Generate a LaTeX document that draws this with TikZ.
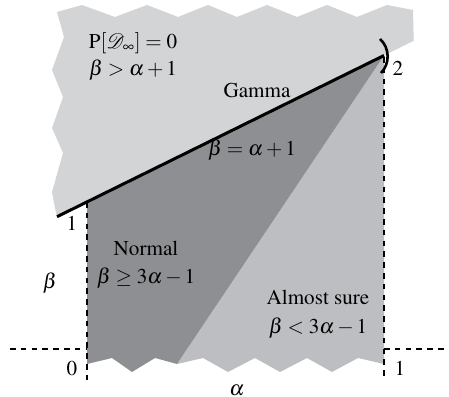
\documentclass[tikz,border=0pt]{standalone}
\usepackage[T1]{fontenc}
\usepackage{mathptmx}
\definecolor{lightreg}{HTML}{D3D4D6}
\definecolor{asreg}{HTML}{BDBEC1}
\definecolor{normreg}{HTML}{8E8F92}
\begin{document}
\begin{tikzpicture}[x=0.5bp,y=-0.5bp,
  lbl/.style={font=\fontsize{10.6}{13}\selectfont, inner sep=0pt, anchor=center},
  axisdash/.style={line width=0.7bp, dash pattern=on 2.8bp off 2.6bp},
  boundary/.style={line width=1.5bp, black}]
\useasboundingbox (0,0) rectangle (449,397);
% key coordinates
\coordinate (O) at (87,349);
\coordinate (A1) at (87,202);
\coordinate (T) at (384,55.5);
\coordinate (L) at (57,216.7);
\coordinate (R) at (413.7,40.8);
\coordinate (D0) at (177,364);
% light region above beta = alpha + 1
\fill[lightreg] (L) -- (55,208) -- (52,192) -- (63,153) -- (52,128) -- (63,97)
  -- (52,70) -- (64,37) -- (57,12) -- (82,5) -- (115,17) -- (147,5) -- (178,17)
  -- (208,5) -- (237,17) -- (267,5) -- (297,17) -- (327,5) -- (357,17)
  -- (387,5) -- (413,10) -- (R) -- cycle;
% almost sure region
\fill[asreg] (T) -- (384,364) -- (358,358) -- (332,372) -- (307,358) -- (280,372)
  -- (255,358) -- (228,372) -- (203,358) -- (D0) -- cycle;
% normal region
\fill[normreg] (A1) -- (T) -- (D0) -- (155,358) -- (132,372) -- (112,358)
  -- (87,364) -- cycle;
% dashed axes
\coordinate (HL0) at (10,349);
\coordinate (HR0) at (384,349);
\coordinate (HR1) at (444,349);
\coordinate (VL1) at (87,381);
\coordinate (VR0) at (384,57);
\coordinate (VR1) at (384,381);
\draw[axisdash] (HL0) -- (O);
\draw[axisdash] (HR0) -- (HR1);
\draw[axisdash] (A1) -- (VL1);
\draw[axisdash] (VR0) -- (VR1);
% gamma boundary
\draw[boundary] (L) -- (T);
\draw[boundary, line width=1.3bp] (380,39) .. controls (390,48) and (390,64) .. (381,73);
% labels
\node[lbl] (p) at (133,43) {P$[\mathcal{D}_\infty]=0$};
\node[lbl] (pc) at (133,70) {$\beta>\alpha+1$};
\node[lbl] (g) at (257,90) {Gamma};
\node[lbl] (gc) at (252,150) {$\beta=\alpha+1$};
\node[lbl] (n) at (146,248) {Normal};
\node[lbl] (nc) at (146,278) {$\beta\geq 3\alpha-1$};
\node[lbl] (as) at (318,297) {Almost sure};
\node[lbl] (asc) at (318,328) {$\beta<3\alpha-1$};
\node[lbl] (t1) at (72,223) {1};
\node[lbl] (t0) at (72,368) {0};
\node[lbl] (t1r) at (400,368) {1};
\node[lbl] (t2) at (398,68) {2};
\node[lbl] (al) at (237,390) {$\alpha$};
\node[lbl] (be) at (50,283) {$\beta$};
\end{tikzpicture}
\end{document}
